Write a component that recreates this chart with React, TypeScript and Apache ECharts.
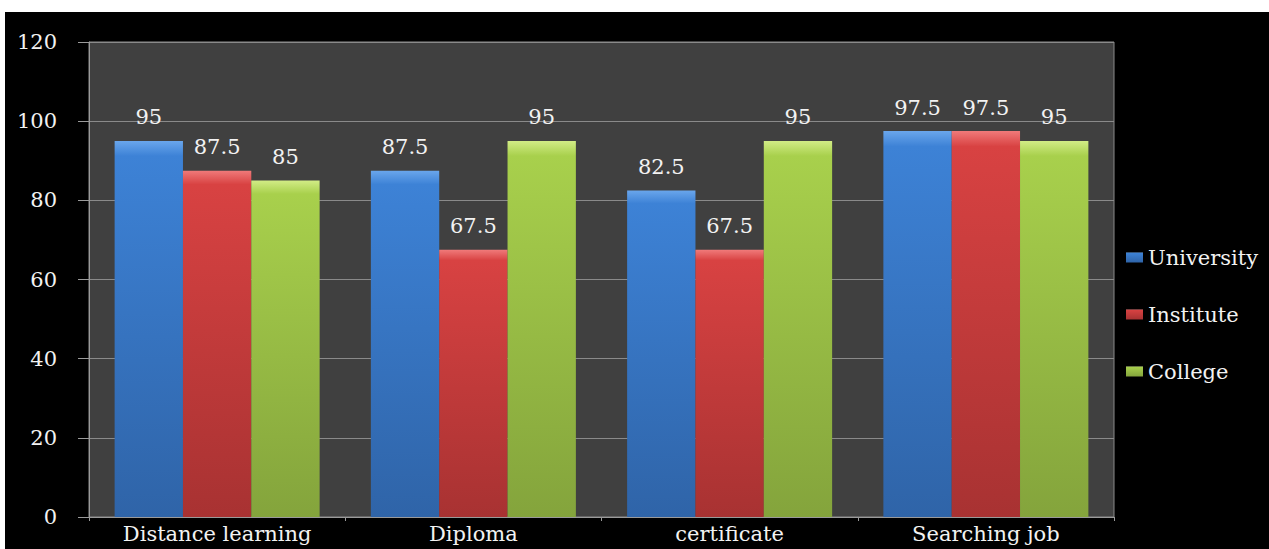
import React, { useEffect, useRef } from "react";
import * as echarts from "echarts";

const categories = ["Distance learning", "Diploma", "certificate", "Searching job"];
const university = [95, 87.5, 82.5, 97.5];
const institute = [87.5, 67.5, 67.5, 97.5];
const college = [85, 95, 95, 95];
const yTicks = [0, 20, 40, 60, 80, 100, 120];

const FONT = "DejaVu Serif";

function grad(top: string, mid: string, bottom: string) {
  return new echarts.graphic.LinearGradient(0, 0, 0, 1, [
    { offset: 0, color: top },
    { offset: 0.04, color: mid },
    { offset: 1, color: bottom },
  ]);
}

export default function App() {
  const ref = useRef<HTMLDivElement>(null);
  useEffect(() => {
    if (!ref.current) return;
    const chart = echarts.init(ref.current, null, { renderer: "svg" });
    const label = {
      show: true,
      position: "top" as const,
      distance: 13,
      color: "#f2f2f2",
      fontFamily: FONT,
      fontSize: 21,
    };
    const mk = (name: string, data: number[], color: any) => ({
      name,
      type: "bar" as const,
      data,
      barGap: "0%",
      barCategoryGap: "20%",
      itemStyle: { color },
      label,
      emphasis: { disabled: true },
    });
    chart.setOption({
      animation: false,
      backgroundColor: "#ffffff",
      graphic: [
        {
          type: "rect",
          z: -10,
          silent: true,
          shape: { x: 5, y: 12, width: 1264, height: 537 },
          style: { fill: "#000000" },
        },
      ],
      color: ["#3b7dd0", "#d24040", "#a2c94a"],
      legend: {
        orient: "vertical",
        left: 1121,
        top: 242,
        itemWidth: 17,
        itemHeight: 10,
        itemGap: 36,
        icon: "rect",
        textStyle: { color: "#f2f2f2", fontFamily: FONT, fontSize: 21 },
        data: ["University", "Institute", "College"],
      },
      grid: {
        left: 89,
        right: 155,
        top: 42,
        bottom: 32,
        show: true,
        backgroundColor: "#404040",
        borderColor: "#8a8a8a",
        borderWidth: 1,
      },
      xAxis: {
        type: "category",
        data: categories,
        axisLine: { lineStyle: { color: "#9a9a9a", width: 1 } },
        axisTick: { show: true, length: 4, lineStyle: { color: "#9a9a9a" } },
        axisLabel: {
          color: "#f2f2f2",
          fontFamily: FONT,
          fontSize: 21,
          margin: 6,
        },
      },
      yAxis: {
        type: "value",
        min: 0,
        max: 120,
        interval: 20,
        axisLine: { show: true, lineStyle: { color: "#9a9a9a" } },
        axisTick: { show: true, length: 11, lineStyle: { color: "#9a9a9a" } },
        splitLine: { lineStyle: { color: "#8a8a8a", width: 1 } },
        axisLabel: {
          color: "#f2f2f2",
          fontFamily: FONT,
          fontSize: 21,
          margin: 32,
          formatter: (v: number) => (yTicks.includes(v) ? String(v) : ""),
        },
      },
      series: [
        mk("University", university, grad("#6aa6ec", "#3d82d6", "#2f64a8")),
        mk("Institute", institute, grad("#f07a7a", "#d84242", "#a83232")),
        mk("College", college, grad("#d2ec86", "#a8d04c", "#84a43c")),
      ],
    });
    return () => chart.dispose();
  }, []);
  return (
    <div
      ref={ref}
      style={{ position: "absolute", left: 0, top: 0, width: 1269, height: 549 }}
    />
  );
}
